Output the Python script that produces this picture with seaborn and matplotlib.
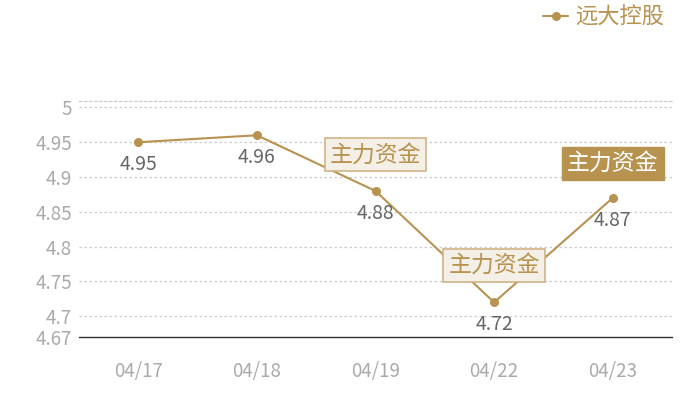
import matplotlib
matplotlib.use('Agg')
import matplotlib.pyplot as plt
import seaborn as sns
import pandas as pd

# data
dates = ['04/17', '04/18', '04/19', '04/22', '04/23']
prices = [4.95, 4.96, 4.88, 4.72, 4.87]
series_name = '远大控股'
yticks = [4.67, 4.7, 4.75, 4.8, 4.85, 4.9, 4.95, 5]
ytick_labels = ['4.67', '4.7', '4.75', '4.8', '4.85', '4.9', '4.95', '5']
# "主力资金" tags: (category index, y value, filled?)
tag_text = '主力资金'
tag_idx = [2, 3, 4]
tag_y = [4.932, 4.773, 4.920]
tag_filled = [False, False, True]

gold = '#b8924f'

sns.set_theme(style='white')
plt.rcParams['font.family'] = ['Noto Sans CJK SC', 'DejaVu Sans']

df = pd.DataFrame({'idx': range(len(dates)), 'price': prices, 'name': series_name})

fig = plt.figure(figsize=(7, 4), dpi=100)
ax = fig.add_axes([0.113, 0.157, 0.847, 0.591])

sns.lineplot(data=df, x='idx', y='price', color=gold, marker='o', markersize=6.5,
             markeredgewidth=0, linewidth=1.5, ax=ax, label=series_name, legend=False)

# value labels under the points
for i, v in enumerate(prices):
    ax.annotate(f'{v:g}', (i, v), xytext=(0, -16), textcoords='offset points',
                ha='center', va='center', fontsize=14, color='#666666')

# tags
for i, y, filled in zip(tag_idx, tag_y, tag_filled):
    if filled:
        box = dict(boxstyle='square,pad=0.22', facecolor=gold, edgecolor=gold, linewidth=1)
        tc = 'white'
    else:
        box = dict(boxstyle='square,pad=0.22', facecolor='#f4efe7', edgecolor='#cfb386', linewidth=1.2)
        tc = '#b8924f'
    ax.text(i, y, tag_text, ha='center', va='center', fontsize=16.5, color=tc, bbox=box, zorder=5)

ax.set_xlim(-0.5, len(dates) - 0.5)
ax.set_ylim(4.67, 5.0095)
ax.set_xticks(range(len(dates)))
ax.set_xticklabels(dates)
ax.set_yticks(yticks)
ax.set_yticklabels(ytick_labels)
ax.tick_params(axis='both', length=0, labelsize=13.5, labelcolor='#aaaaaa')
ax.tick_params(axis='x', pad=17)
ax.tick_params(axis='y', pad=5)
ax.set_xlabel('')
ax.set_ylabel('')

for y in yticks[1:]:
    ax.axhline(y, color='#cccccc', linewidth=0.9, linestyle=(0, (2, 2)), zorder=0)

ax.spines['left'].set_visible(False)
ax.spines['right'].set_visible(False)
ax.spines['top'].set_color('#cccccc')
ax.spines['top'].set_linestyle((0, (2, 2)))
ax.spines['top'].set_linewidth(0.9)
ax.spines['bottom'].set_color('#333333')
ax.spines['bottom'].set_linewidth(1)

# legend at top right
fig.legend(handles=ax.get_lines()[:1], labels=[series_name], loc='upper right',
           bbox_to_anchor=(0.978, 1.035), frameon=False, fontsize=16,
           labelcolor=gold, handlelength=1.1, handletextpad=0.35, markerscale=1.0)

fig.savefig('out.png', dpi=100)
